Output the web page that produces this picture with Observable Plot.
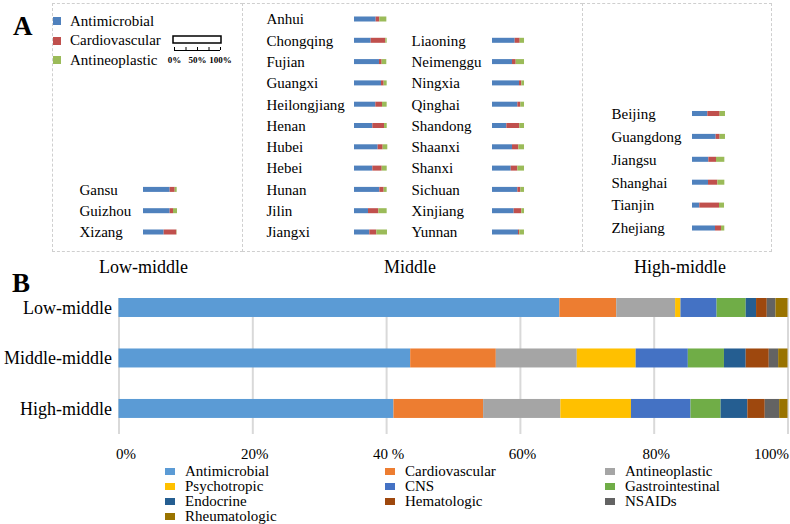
<!DOCTYPE html>
<html><head><meta charset="utf-8">
<script src="https://cdn.jsdelivr.net/npm/d3@7"></script>
<script src="https://cdn.jsdelivr.net/npm/@observablehq/plot@0.6"></script>
<style>
body{margin:0;background:#fff;}
#root{position:relative;width:790px;height:524px;overflow:hidden;color:#000;background:#fff;}
#root, #root *{font-family:"Liberation Serif","Times New Roman",serif !important;}
.abs{position:absolute;}
.box{position:absolute;border:1.5px dashed #cfcfcf;box-sizing:border-box;}
.panel{position:absolute;font-weight:bold;font-size:27px;line-height:27px;}
.glabel{position:absolute;font-size:18px;line-height:18px;text-align:center;width:200px;margin-left:-100px;}
#legA, #legA *{font-size:15px !important;color:#000 !important;}
#legB, #legB *{font-size:15px !important;color:#000 !important;}
#legA .lga-swatches{min-height:0;margin:0;}
#legA .lga-swatch{width:100%;height:19.5px;margin-right:0;}
#legA .lga-swatch > svg{margin-right:9px;}
#legB .lgb-swatches{min-height:0;margin:0;}
#legB .lgb-swatch{width:220px;height:15px;margin-right:0;}
#legB .lgb-swatch > svg{margin-right:10px;}
</style></head><body><div id="root"></div>
<script>
// ---------- Panel A data ----------
const aCategories = ["Antimicrobial","Cardiovascular","Antineoplastic"];
const aColors = ["#4F81BD","#C0504D","#9BBB59"];
const aGroupLabels = ["Low-middle","Middle","High-middle"];

const lowProvinces = ["Gansu","Guizhou","Xizang"];
const lowAntimicrobial = [58.0,58.0,44.9];
const lowCardiovascular = [10.9,7.2,27.5];
const lowAntineoplastic = [4.3,8.7,0.7];

const midLeftProvinces = ["Anhui","Chongqing","Fujian","Guangxi","Heilongjiang","Henan","Hubei","Hebei","Hunan","Jilin","Jiangxi"];
const midLeftAntimicrobial = [47.1,36.2,54.3,58.7,46.4,39.9,51.4,39.9,55.1,30.4,33.3];
const midLeftCardiovascular = [8.0,31.9,5.8,5.8,14.5,25.4,10.9,20.3,9.4,22.5,15.2];
const midLeftAntineoplastic = [15.2,2.9,10.1,6.5,10.1,5.8,10.1,10.9,6.5,18.1,23.2];

const midRightProvinces = ["Liaoning","Neimenggu","Ningxia","Qinghai","Shandong","Shaanxi","Shanxi","Sichuan","Xinjiang","Yunnan"];
const midRightAntimicrobial = [49.3,43.5,58.7,55.1,31.2,43.5,40.6,55.1,47.1,56.5];
const midRightCardiovascular = [10.9,8.0,5.1,6.5,28.3,13.8,14.5,6.5,16.7,2.9];
const midRightAntineoplastic = [9.4,18.1,5.8,8.0,10.1,12.3,14.5,8.0,5.8,10.1];

const highProvinces = ["Beijing","Guangdong","Jiangsu","Shanghai","Tianjin","Zhejiang"];
const highAntimicrobial = [33.3,51.4,35.5,34.8,15.9,50.0];
const highCardiovascular = [26.8,8.7,16.7,20.3,42.8,13.0];
const highAntineoplastic = [11.6,11.6,18.1,15.2,10.9,7.2];

const scaleTicks = [0,25,50,75,100];
const scaleLabelTicks = [0,50,100];

// ---------- Panel B data ----------
const groups = ["Low-middle","Middle-middle","High-middle"];
const drugClasses = ["Antimicrobial","Cardiovascular","Antineoplastic","Psychotropic","CNS","Gastrointestinal","Endocrine","Hematologic","NSAIDs","Rheumatologic"];
const classColors = ["#5B9BD5","#ED7D31","#A5A5A5","#FFC000","#4472C4","#70AD47","#255E91","#9E480E","#636363","#997300"];
const lowMiddleShares = [65.9,8.5,8.8,0.8,5.4,4.35,1.55,1.6,1.3,1.8];
const middleMiddleShares = [43.6,12.8,12.1,8.8,7.8,5.4,3.25,3.45,1.4,1.4];
const highMiddleShares = [41.1,13.4,11.55,10.55,8.9,4.5,4.0,2.6,2.15,1.25];
const xTicks = [0,20,40,60,80,100];
const xTickLabels = ["0%","20%","40 %","60%","80%","100%"];

const SERIF = '"Liberation Serif","Times New Roman",serif';
const root = document.getElementById("root");

function place(el, left, top, width) {
  const d = document.createElement("div");
  d.className = "abs";
  d.style.left = left + "px"; d.style.top = top + "px";
  if (width) d.style.width = width + "px";
  d.appendChild(el);
  root.appendChild(d);
  return d;
}
function addDiv(cls, css, text) {
  const d = document.createElement("div");
  d.className = cls;
  Object.assign(d.style, css);
  if (text != null) d.textContent = text;
  root.appendChild(d);
  return d;
}

// dashed boxes
addDiv("box", {left:"52px", top:"3px", width:"191px", height:"249px"});
addDiv("box", {left:"242px", top:"3px", width:"341px", height:"249px", borderLeft:"none"});
addDiv("box", {left:"582px", top:"3px", width:"190px", height:"249px", borderLeft:"none"});

// panel letters
addDiv("panel", {left:"13px", top:"13px"}, "A");
addDiv("panel", {left:"12px", top:"270px"}, "B");

// group labels under boxes (centres)
[143.5, 410, 680].forEach((cx, i) => {
  addDiv("glabel", {left: cx + "px", top: "258px"}, aGroupLabels[i]);
});

function miniBars(provinces, am, cv, an, o) {
  const n = o.rows;
  const data = [], labels = [];
  provinces.forEach((p, i) => {
    const row = n - provinces.length + i;
    labels.push({row, name: p});
    [am[i], cv[i], an[i]].forEach((v, k) => data.push({row, name: p, cat: aCategories[k], value: v}));
  });
  return Plot.plot({
    width: o.width, height: o.height,
    marginLeft: o.marginLeft, marginRight: o.marginRight,
    marginTop: o.marginTop, marginBottom: o.marginBottom,
    x: {domain: [0, 100], axis: null},
    y: {type: "band", domain: d3.range(n), paddingInner: o.pad, paddingOuter: o.pad / 2, round: false, axis: null},
    color: {domain: aCategories, range: aColors},
    style: {fontFamily: SERIF, fontSize: "15px", background: "transparent", color: "#000"},
    marks: [
      Plot.barX(data, {x: "value", y: "row", fill: "cat", order: aCategories}),
      Plot.text(labels, {y: "row", text: "name", frameAnchor: "left", textAnchor: "start", dx: o.labelDx, fill: "#000", fontSize: 15, fontFamily: SERIF})
    ]
  });
}

const colOpts = {rows: 11, height: 248, marginTop: 5.35, marginBottom: 8.35, pad: 0.765};
place(miniBars(lowProvinces, lowAntimicrobial, lowCardiovascular, lowAntineoplastic,
  {...colOpts, width: 190, marginLeft: 91, marginRight: 53, labelDx: -64}), 52, 3, 190);
place(miniBars(midLeftProvinces, midLeftAntimicrobial, midLeftCardiovascular, midLeftAntineoplastic,
  {...colOpts, width: 160, marginLeft: 112, marginRight: 2, labelDx: -88}), 242, 3, 160);
place(miniBars(midRightProvinces, midRightAntimicrobial, midRightCardiovascular, midRightAntineoplastic,
  {...colOpts, width: 182, marginLeft: 92, marginRight: 44, labelDx: -81}), 400, 3, 182);
place(miniBars(highProvinces, highAntimicrobial, highCardiovascular, highAntineoplastic,
  {rows: 6, height: 248, marginTop: 99.05, marginBottom: 11.55, pad: 0.78, width: 189, marginLeft: 110, marginRight: 33, labelDx: -81}), 582, 3, 189);

// legend A
const legA = Plot.legend({
  color: {domain: aCategories, range: aColors},
  legend: "swatches", swatchSize: 8, className: "lga"
});
const la = place(legA, 53, 11.5, 120); la.id = "legA";

// scale bar (legend for mini-bar length)
const scaleBar = Plot.plot({
  width: 75, height: 32, marginLeft: 14, marginRight: 15, marginTop: 2, marginBottom: 12,
  x: {domain: [0, 100]}, y: {domain: [0, 9], axis: null},
  style: {fontFamily: SERIF, background: "transparent", color: "#000"},
  marks: [
    Plot.rect([{x1: 0, x2: 100}], {x1: "x1", x2: "x2", y1: 4.5, y2: 8, fill: "white", stroke: "#000", strokeWidth: 1.5, insetLeft: -1, insetRight: -1}),
    Plot.ruleY([1], {x1: 0, x2: 100, stroke: "#000"}),
    Plot.ruleX(scaleTicks, {y1: 1, y2: 2.5, stroke: "#000"}),
    Plot.axisX(scaleLabelTicks, {tickSize: 0, tickPadding: 4, tickFormat: d => d + "%", fontSize: 9, fontWeight: "bold", label: null})
  ]
});
place(scaleBar, 160, 32, 75);

// ---------- Panel B ----------
const shares = [lowMiddleShares, middleMiddleShares, highMiddleShares];
const bData = [];
groups.forEach((g, gi) => drugClasses.forEach((c, ci) => bData.push({group: g, cls: c, value: shares[gi][ci]})));

const fmtX = d => xTickLabels[xTicks.indexOf(d)];
const axisXOpts = {tickSize: 0, tickPadding: 14, tickFormat: fmtX, fontSize: 15, label: null};
const chartB = Plot.plot({
  width: 790, height: 185,
  marginLeft: 118.5, marginRight: 2.5, marginTop: 18, marginBottom: 31,
  x: {domain: [0, 100]},
  y: {type: "band", domain: groups, paddingInner: 0.624, paddingOuter: 0.159, align: 0, round: false},
  color: {domain: drugClasses, range: classColors},
  style: {fontFamily: SERIF, fontSize: "15px", background: "transparent", color: "#000"},
  marks: [
    Plot.gridX(xTicks.slice(1), {stroke: "#d9d9d9", strokeOpacity: 1, strokeWidth: 2}),
    Plot.ruleX([0], {stroke: "#d9d9d9", strokeWidth: 2}),
    Plot.barX(bData, {x: "value", y: "group", fill: "cls", order: drugClasses}),
    Plot.axisX(xTicks.slice(0, 1), {...axisXOpts, dx: 7}),
    Plot.axisX(xTicks.slice(1, -1), {...axisXOpts, dx: 2}),
    Plot.axisX(xTicks.slice(-1), {...axisXOpts, textAnchor: "end", dx: 1}),
    Plot.axisY({tickSize: 0, tickPadding: 7, fontSize: 18, label: null})
  ]
});
place(chartB, 0, 280, 790);

const legB = Plot.legend({
  color: {domain: drugClasses, range: classColors},
  legend: "swatches", swatchWidth: 10, swatchHeight: 7, className: "lgb"
});
const lb = place(legB, 165, 463.5, 660); lb.id = "legB";
</script></body></html>
